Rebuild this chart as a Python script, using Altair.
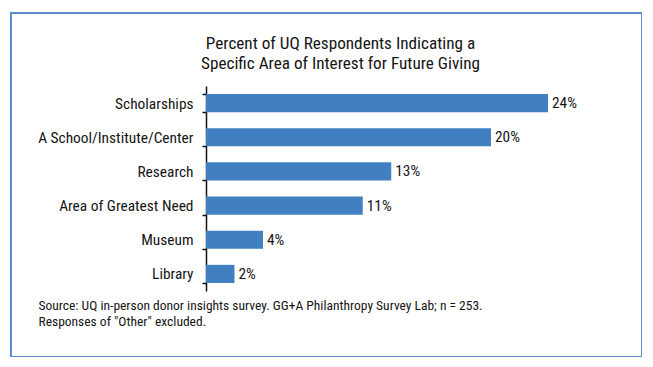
import altair as alt
import pandas as pd

categories = ["Scholarships", "A School/Institute/Center", "Research",
              "Area of Greatest Need", "Museum", "Library"]
values = [24, 20, 13, 11, 4, 2]
value_labels = ["24%", "20%", "13%", "11%", "4%", "2%"]

title_lines = ["Percent of UQ Respondents Indicating a",
               "Specific Area of Interest for Future Giving"]
note_lines = ["Source: UQ in-person donor insights survey. GG+A Philanthropy Survey Lab; n = 253.",
              'Responses of "Other" excluded.']

df = pd.DataFrame({"area": categories, "pct": values, "label": value_labels})

FONT = "'Roboto Condensed', 'DejaVu Sans Condensed', 'Liberation Sans Narrow', 'Open Sans', sans-serif"
TEXT = "#151515"
BAR = "#4080c0"

y_enc = alt.Y(
    "area:N", sort=categories,
    scale=alt.Scale(range=[73, 278], paddingInner=0.47, paddingOuter=0.235),
    axis=alt.Axis(title=None, offset=-195, labelFont=FONT, labelFontSize=15.4,
                  labelColor=TEXT, labelPadding=9, domainColor="#111",
                  domainWidth=1.5, tickColor="#111", tickWidth=1.5, tickSize=4,
                  tickBand="extent", grid=False),
)
x_enc = alt.X(
    "pct:Q",
    scale=alt.Scale(domain=[0, 24], range=[195, 537], nice=False, zero=True),
    axis=alt.Axis(labels=False, ticks=False, domain=False, grid=False,
                  title=note_lines, titleFont=FONT, titleFontSize=13.5,
                  titleFontWeight="normal", titleColor=TEXT, titleAnchor="start",
                  titleAlign="left", titleBaseline="top", titleX=27, titleY=-59,
                  titleLineHeight=16),
)

bars = alt.Chart(df).mark_bar(color=BAR).encode(x=x_enc, y=y_enc)
text = alt.Chart(df).mark_text(align="left", baseline="middle", dx=4,
                               font=FONT, fontSize=15.4, color=TEXT).encode(
    x=alt.X("pct:Q"), y=alt.Y("area:N", sort=categories), text="label:N")

chart = alt.layer(bars, text).properties(
    width=631, height=344,
    background="white",
    padding={"left": 3, "top": -2, "right": 0, "bottom": 0},
    title=alt.Title(text=title_lines, font=FONT, fontSize=17.2,
                    fontWeight="normal", color=TEXT, anchor="middle",
                    offset=-66, dx=14, lineHeight=20),
).configure_view(stroke="#5b8ec6", strokeWidth=2)

chart.save("out.html", embed_options={"renderer": "svg", "actions": False})
